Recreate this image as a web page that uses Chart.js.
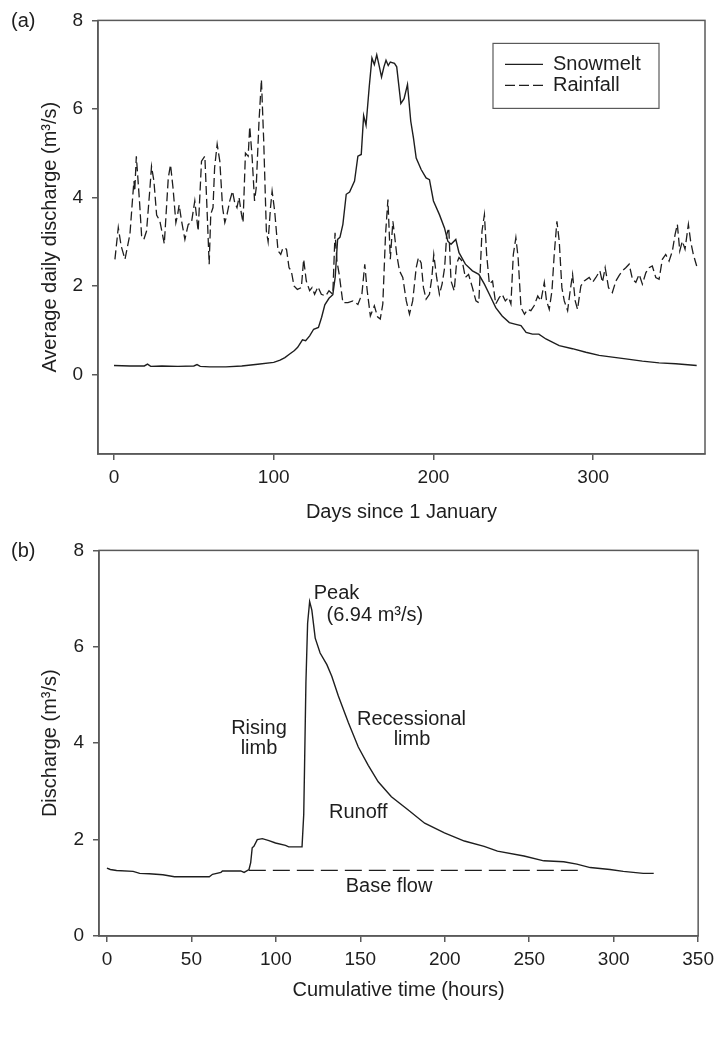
<!DOCTYPE html>
<html>
<head>
<meta charset="utf-8">
<script src="https://cdn.jsdelivr.net/npm/chart.js@4.4.1/dist/chart.umd.min.js"></script>
<style>
  html, body { margin: 0; padding: 0; background: #fff; }
  #wrap { position: relative; width: 720px; height: 1060px; }
  canvas { position: absolute; left: 0; }
  #chartA { top: 0; }
  #chartB { top: 530px; }
</style>
</head>
<body>
<div id="wrap">
  <canvas id="chartA" width="720" height="530"></canvas>
  <canvas id="chartB" width="720" height="530"></canvas>
</div>
<script>
// ---- panel (a): average daily discharge ----
const snowDays = [0, 10, 19, 21, 23, 30, 40, 50, 52, 54, 60, 70, 80, 90, 100, 104, 107, 110, 113, 115,
  118, 120, 122.5, 125, 128, 130, 132, 134.6, 137, 138.5, 140, 141.5, 143.3, 145.4, 147.5, 150.6, 152.7,
  154.8, 156.3, 157.8, 159.8, 161.5, 163, 164.5, 166, 167.5, 169, 170.3, 171.7, 173, 175.6, 177, 179.6,
  181.6, 183.75, 185.8, 187.5, 189.2, 192.3, 195.4, 197.5, 200, 203.75, 206.9, 209, 211, 214, 216, 220,
  224.4, 228.4, 231.9, 235, 239, 243, 247.5, 251.6, 254.8, 258, 262, 266, 270.4, 278.75, 287, 295.4,
  303.75, 312, 320.4, 330.8, 341.25, 351.7, 364.8];
const snowQ = [0.2, 0.19, 0.19, 0.23, 0.18, 0.19, 0.18, 0.19, 0.22, 0.18, 0.17, 0.17, 0.19, 0.23, 0.27,
  0.32, 0.38, 0.46, 0.54, 0.61, 0.78, 0.76, 0.87, 1.02, 1.06, 1.29, 1.57, 1.72, 1.8, 2.2, 3.05, 3.1, 3.39,
  4.07, 4.12, 4.37, 4.93, 4.97, 5.85, 5.63, 6.5, 7.15, 7.0, 7.22, 6.98, 6.72, 6.95, 7.1, 6.98, 7.06, 7.03,
  6.95, 6.12, 6.23, 6.55, 5.72, 5.34, 4.89, 4.63, 4.44, 4.4, 3.92, 3.61, 3.31, 3.01, 2.94, 3.05, 2.75,
  2.49, 2.34, 2.26, 2.04, 1.81, 1.51, 1.32, 1.17, 1.13, 1.1, 0.95, 0.91, 0.91, 0.8, 0.65, 0.58, 0.5, 0.43,
  0.39, 0.35, 0.3, 0.26, 0.24, 0.2];

const rainDays = [0.6, 2.7, 4.5, 6.9, 10, 11.7, 12.5, 13, 14, 16, 17.3, 18.7, 20.4, 22.5, 23.5, 25, 26.7,
  28.7, 31.5, 34, 35.4, 37, 38.75, 39.8, 40.8, 42.3, 44.4, 46.5, 48.5, 50.6, 52.7, 54.8, 56.9, 58.3, 59.6,
  60.6, 62, 63, 64.6, 66.25, 68, 69.4, 70.8, 72.5, 74.2, 75.6, 77, 78.3, 79.8, 80.8, 82.3, 84, 85, 86.5,
  88, 89, 90.8, 92.3, 93.75, 95.4, 96.5, 98, 99, 100.6, 102.7, 104.4, 105.8, 108, 109.6, 111, 112.7, 114.8,
  117.3, 118.75, 120.4, 122.5, 124, 125.6, 127.7, 129.8, 132.5, 134.6, 137, 138.4, 139.6, 141, 143.3,
  146.5, 149.6, 152.7, 155.2, 157, 158.5, 160.5, 163, 165, 166.7, 168.3, 170, 171.5, 173, 174.6, 175.6,
  177, 178.75, 180.8, 183, 185, 187, 189.2, 190.6, 192.3, 193.75, 195.4, 197.5, 199, 200.2, 202, 203.75,
  205.4, 207, 208.3, 209.6, 211, 213, 214.4, 216, 218, 220, 222, 224.4, 226.6, 228.4, 230.4, 231.9, 233.3,
  235, 237, 239, 241.25, 243, 245, 247, 248.5, 250, 251.6, 253, 254.8, 257, 259, 261, 263, 265.3, 267.3,
  269.4, 270.8, 272.5, 274.2, 275.6, 277.3, 278.75, 280.4, 281.9, 284, 285.6, 287.1, 288.75, 290.2, 292.3,
  294.4, 297.5, 299.6, 301.7, 304.2, 305.8, 307.5, 309.6, 312, 314.2, 316.2, 318.3, 320.4, 322.5, 324.6,
  326.7, 328.75, 330.8, 333, 335, 337, 339.2, 341.25, 343.3, 345.4, 347.5, 349.6, 351.25, 352.7, 354.2,
  355.8, 357.5, 359.6, 361, 362.7, 364.8];
const rainQ = [2.6, 3.32, 2.9, 2.6, 3.17, 4.0, 4.37, 4.14, 4.93, 3.9, 3.13, 3.05, 3.24, 4.2, 4.7, 4.37,
  3.6, 3.47, 2.95, 4.44, 4.74, 4.2, 3.43, 3.6, 3.83, 3.47, 3.05, 3.39, 3.43, 3.92, 3.24, 4.82, 4.93, 3.69,
  2.49, 3.62, 3.77, 4.67, 5.2, 4.82, 3.77, 3.43, 3.62, 3.92, 4.14, 3.88, 3.77, 4.0, 3.62, 3.43, 5.0, 4.93,
  5.6, 4.9, 3.92, 4.2, 5.72, 6.66, 5.27, 3.24, 3.0, 3.77, 4.14, 3.69, 2.79, 2.71, 2.86, 2.83, 2.41, 2.34,
  2.0, 1.92, 1.96, 2.6, 2.11, 1.89, 1.96, 1.81, 1.98, 1.81, 1.77, 1.89, 1.81, 3.2, 2.56, 2.26, 1.62, 1.62,
  1.66, 1.58, 1.81, 2.49, 1.9, 1.32, 1.55, 1.3, 1.25, 1.59, 3.16, 3.95, 2.6, 3.46, 3.16, 2.71, 2.34, 2.19,
  1.66, 1.36, 1.66, 2.41, 2.64, 2.52, 1.96, 1.7, 1.81, 2.19, 2.71, 2.19, 1.81, 2.04, 2.41, 3.16, 3.31,
  2.11, 1.89, 2.49, 2.64, 2.56, 2.19, 2.26, 1.96, 1.66, 1.62, 3.24, 3.61, 2.71, 2.04, 2.11, 1.59, 1.74,
  1.81, 1.66, 1.74, 1.59, 2.71, 3.09, 2.64, 1.51, 1.36, 1.47, 1.44, 1.55, 1.77, 1.66, 2.08, 1.66, 1.47,
  1.89, 2.71, 3.46, 3.01, 1.96, 1.66, 1.44, 1.89, 2.26, 1.66, 1.47, 2.0, 2.11, 2.19, 2.08, 2.19, 2.34,
  2.08, 2.41, 1.96, 1.85, 2.11, 2.23, 2.34, 2.41, 2.49, 2.15, 2.08, 2.26, 2.04, 2.3, 2.41, 2.45, 2.19,
  2.15, 2.6, 2.71, 2.56, 2.79, 3.16, 3.39, 2.79, 3.01, 2.83, 3.39, 3.01, 2.71, 2.45];

const ticksAx = [0, 100, 200, 300];
const ticksAy = [0, 2, 4, 6, 8];

// ---- panel (b): storm hydrograph ----
const hourT = [0, 2, 5.7, 15.5, 19.4, 25, 33.1, 40, 50, 60.6, 62.5, 67.5, 68.4, 79.2, 81.2, 84.1, 85.1,
  86, 87, 89, 92, 95.9, 99.8, 105.7, 107.6, 115.5, 116.5, 117, 117.8, 118.8, 120, 121.3, 123.3, 126.2,
  130.2, 133.1, 137, 142.9, 148.8, 154.7, 160.6, 168.4, 178.2, 188.1, 199.8, 211.6, 223.3, 231.2, 246.9,
  258.6, 270.4, 278.2, 286.1, 297.8, 305.7, 317.5, 323.7];
const hourQ = [1.41, 1.38, 1.36, 1.34, 1.3, 1.29, 1.27, 1.23, 1.23, 1.23, 1.28, 1.32, 1.35, 1.35, 1.32,
  1.38, 1.52, 1.83, 1.86, 2.0, 2.02, 1.98, 1.93, 1.88, 1.85, 1.85, 2.52, 3.54, 5.26, 6.49, 6.94, 6.76,
  6.18, 5.87, 5.63, 5.39, 4.98, 4.43, 3.92, 3.54, 3.2, 2.89, 2.62, 2.34, 2.14, 1.97, 1.86, 1.76, 1.66,
  1.56, 1.54, 1.49, 1.42, 1.38, 1.34, 1.3, 1.3];
const baseT = [84, 280];
const baseQ = [1.36, 1.36];

const ticksBx = [0, 50, 100, 150, 200, 250, 300, 350];
const ticksBy = [0, 2, 4, 6, 8];

// text labels of panel (b), placed in data units
const notesB = [
  { text: 'Peak', x: 122.4, y: 7.11, align: 'left' },
  { text: '(6.94 m³/s)', x: 130, y: 6.66, align: 'left' },
  { text: 'Rising', x: 90, y: 4.30, align: 'center' },
  { text: 'limb', x: 90, y: 3.89, align: 'center' },
  { text: 'Recessional', x: 180.3, y: 4.50, align: 'center' },
  { text: 'limb', x: 180.6, y: 4.07, align: 'center' },
  { text: 'Runoff', x: 148.8, y: 2.56, align: 'center' },
  { text: 'Base flow', x: 167, y: 1.02, align: 'center' }
];

const FONT = '"Liberation Sans", Arial, Helvetica, sans-serif';
const ink = '#1e1e1e';
const axisGrey = '#5a5a5a';

const pts = (xs, ys) => xs.map((x, i) => ({ x: x, y: ys[i] }));

// frame, panel letter, legend and notes
const extras = {
  id: 'extras',
  afterDraw(chart, args, opts) {
    const { ctx, chartArea: a } = chart;
    ctx.save();
    ctx.strokeStyle = axisGrey;
    ctx.lineWidth = 1.5;
    ctx.strokeRect(a.left, a.top, a.right - a.left, a.bottom - a.top);

    ctx.fillStyle = ink;
    ctx.font = '20px ' + FONT;
    ctx.textBaseline = 'middle';
    ctx.textAlign = 'left';
    ctx.fillText(opts.panel, 11, a.top + 1);

    if (opts.legend) {
      const lx = a.right - 212, ly = a.top + 23, lw = 166, lh = 65;
      ctx.strokeStyle = axisGrey;
      ctx.lineWidth = 1.2;
      ctx.strokeRect(lx, ly, lw, lh);
      opts.legend.forEach((item, i) => {
        const y = ly + 21 + i * 21;
        ctx.strokeStyle = ink;
        ctx.lineWidth = 1.3;
        ctx.setLineDash(item.dash);
        ctx.beginPath();
        ctx.moveTo(lx + 12, y);
        ctx.lineTo(lx + 50, y);
        ctx.stroke();
        ctx.setLineDash([]);
        ctx.fillText(item.label, lx + 60, y);
      });
    }

    if (opts.notes) {
      const xs = chart.scales.x, ys = chart.scales.y;
      opts.notes.forEach(n => {
        ctx.textAlign = n.align;
        ctx.fillText(n.text, xs.getPixelForValue(n.x), ys.getPixelForValue(n.y));
      });
    }
    ctx.restore();
  }
};

function axis(min, max, tickVals, title, isX, width, titlePad) {
  return {
    type: 'linear',
    min: min,
    max: max,
    afterBuildTicks: s => { s.ticks = tickVals.map(v => ({ value: v })); },
    afterFit: s => { if (isX) s.height = width; else s.width = width; },
    grid: { display: true, drawOnChartArea: false, drawTicks: true, tickLength: 6,
            color: axisGrey, lineWidth: 1.5 },
    border: { display: true, color: axisGrey, width: 1.5 },
    ticks: { autoSkip: false, maxRotation: 0, color: ink, padding: isX ? 6 : 9,
             font: { family: FONT, size: 19 } },
    title: { display: true, text: title, color: ink, font: { family: FONT, size: 20 },
             padding: isX ? { bottom: titlePad } : { top: titlePad } }
  };
}

new Chart(document.getElementById('chartA'), {
  type: 'line',
  data: {
    datasets: [
      { label: 'Snowmelt', data: pts(snowDays, snowQ), borderColor: ink, borderWidth: 1.4,
        pointRadius: 0, tension: 0, fill: false },
      { label: 'Rainfall', data: pts(rainDays, rainQ), borderColor: ink, borderWidth: 1.3,
        borderDash: [9, 4], pointRadius: 0, tension: 0, fill: false }
    ]
  },
  options: {
    responsive: false,
    animation: false,
    layout: { padding: { top: 19, right: 15, left: 0, bottom: 0 } },
    plugins: {
      legend: { display: false },
      tooltip: { enabled: false },
      extras: { panel: '(a)', legend: [
        { label: 'Snowmelt', dash: [] },
        { label: 'Rainfall', dash: [10, 4] }
      ] }
    },
    scales: {
      x: axis(-10, 370, ticksAx, 'Days since 1 January', true, 76, 6),
      y: axis(-1.8, 8, ticksAy, 'Average daily discharge (m³/s)', false, 98, 38)
    }
  },
  plugins: [extras]
});

new Chart(document.getElementById('chartB'), {
  type: 'line',
  data: {
    datasets: [
      { label: 'Discharge', data: pts(hourT, hourQ), borderColor: ink, borderWidth: 1.4,
        pointRadius: 0, tension: 0, fill: false },
      { label: 'Base flow', data: pts(baseT, baseQ), borderColor: ink, borderWidth: 1.3,
        borderDash: [17, 7], pointRadius: 0, tension: 0, fill: false }
    ]
  },
  options: {
    responsive: false,
    animation: false,
    layout: { padding: { top: 17, right: 17, left: 0, bottom: 0 } },
    plugins: {
      legend: { display: false },
      tooltip: { enabled: false },
      extras: { panel: '(b)', notes: notesB }
    },
    scales: {
      x: axis(-4.7, 350, ticksBx, 'Cumulative time (hours)', true, 124, 58),
      y: axis(0, 8, ticksBy, 'Discharge (m³/s)', false, 99, 38)
    }
  },
  plugins: [extras]
});
</script>
</body>
</html>
